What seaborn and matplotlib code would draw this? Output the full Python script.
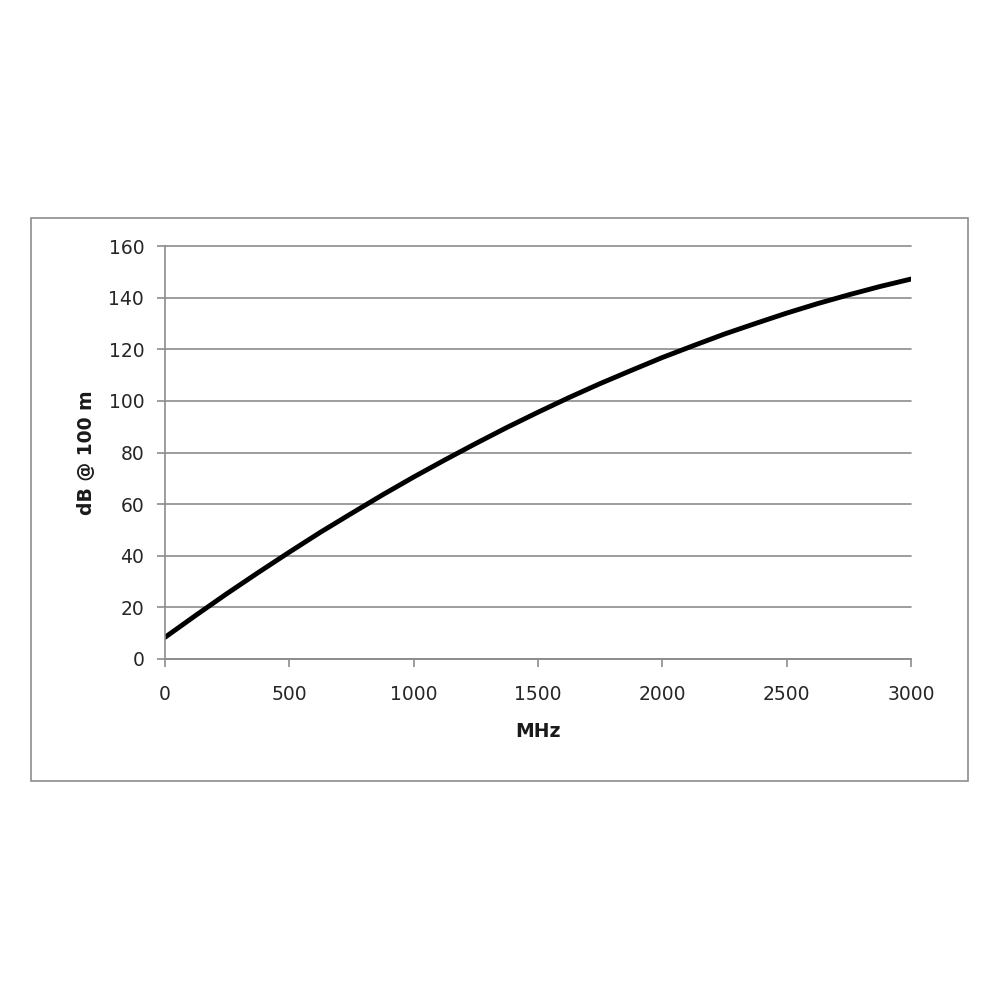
import numpy as np
import pandas as pd
import matplotlib
matplotlib.use("Agg")
import matplotlib.pyplot as plt
from matplotlib.patches import Rectangle
import seaborn as sns

# values (every 125 MHz)
freq_mhz = [0, 125, 250, 375, 500, 625, 750, 875, 1000, 1125, 1250, 1375, 1500,
            1625, 1750, 1875, 2000, 2125, 2250, 2375, 2500, 2625, 2750, 2875, 3000]
loss_db = [8.4, 17.0, 25.4, 33.5, 41.4, 49.1, 56.4, 63.6, 70.5, 77.1, 83.5, 89.7, 95.6,
           101.3, 106.7, 111.8, 116.8, 121.4, 125.9, 130.0, 134.0, 137.7, 141.1, 144.3, 147.2]
y_ticks = [0, 20, 40, 60, 80, 100, 120, 140, 160]
x_ticks = [0, 500, 1000, 1500, 2000, 2500, 3000]

sns.set_style("white")
plt.rcParams["font.family"] = ["DejaVu Sans"]

df = pd.DataFrame({"MHz": freq_mhz, "dB": loss_db})

fig = plt.figure(figsize=(10, 10), dpi=100)
fig.patches.append(Rectangle((0.031, 0.219), 0.937, 0.563, transform=fig.transFigure,
                             fill=False, edgecolor="#8c8c8c", linewidth=1.2))
ax = fig.add_axes([0.165, 0.341, 0.746, 0.413])

sns.lineplot(data=df, x="MHz", y="dB", ax=ax, color="black", linewidth=3.5)

ax.set_xlim(0, 3000)
ax.set_ylim(0, 160)
ax.set_xticks(x_ticks)
ax.set_yticks(y_ticks)
ax.yaxis.grid(True, color="#8c8c8c", linewidth=1.2)
for gl in ax.get_ygridlines():
    gl.set_clip_on(False)
ax.set_axisbelow(True)
for s in ["top", "right"]:
    ax.spines[s].set_visible(False)
for s in ["left", "bottom"]:
    ax.spines[s].set_color("#8c8c8c")
    ax.spines[s].set_linewidth(1.2)
ax.tick_params(axis="both", direction="out", length=6, width=1.2, color="#8c8c8c",
               labelsize=13.5, labelcolor="#262626", bottom=True, left=True)
ax.tick_params(axis="x", pad=13)
ax.tick_params(axis="y", pad=9)
ax.set_xlabel("MHz", fontsize=13.5, fontweight="bold", labelpad=13, color="#1a1a1a")
ax.set_ylabel("dB @ 100 m", fontsize=13.5, fontweight="bold", labelpad=9, color="#1a1a1a")

fig.savefig("out.png", dpi=100)
